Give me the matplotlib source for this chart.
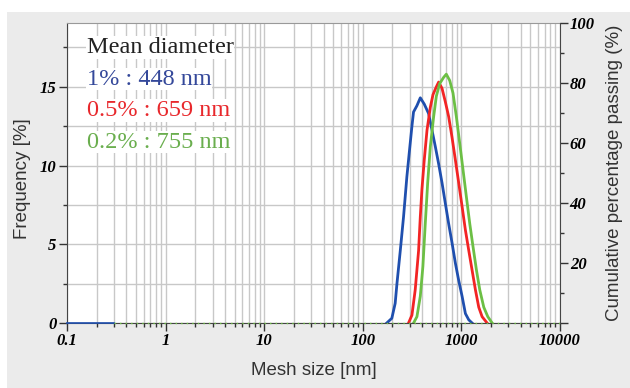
import numpy as np
import matplotlib
matplotlib.use('Agg')
import matplotlib.pyplot as plt
import matplotlib.patches as patches
from matplotlib.ticker import FixedLocator, NullFormatter
from matplotlib.font_manager import FontProperties

# particle size distribution, mesh size [nm] vs frequency [%]
size_1 = [175, 197, 213, 222, 240, 259, 280, 298, 315, 327, 354, 383, 420, 465, 503,
          544, 588, 636, 687, 743, 803, 869, 939, 1016, 1098, 1188, 1284]
freq_1 = [0, 0.3, 1.25, 2.5, 4.6, 6.75, 9.3, 11.0, 12.5, 13.4, 13.8, 14.3, 13.9, 13.3, 12.25,
          11.2, 10.1, 8.9, 7.6, 6.3, 5.1, 3.8, 2.7, 1.7, 0.6, 0.2, 0]

size_05 = [291, 315, 340, 368, 383, 398, 420, 448, 484, 515, 557, 588, 636, 687, 743,
           803, 869, 939, 1016, 1098, 1188, 1284, 1388, 1500, 1622, 1823]
freq_05 = [0, 0.5, 2.1, 4.6, 6.75, 8.5, 10.35, 12.25, 13.7, 14.5, 15.0, 15.3, 14.9, 14.05, 13.1,
           11.8, 10.35, 8.9, 7.4, 5.9, 4.6, 3.35, 2.1, 1.0, 0.4, 0]

size_02 = [327, 354, 383, 407, 430, 455, 484, 523, 557, 602, 661, 703, 761, 822, 889,
           962, 1040, 1124, 1216, 1315, 1422, 1536, 1687, 1853, 2051]
freq_02 = [0, 0.4, 1.7, 3.6, 6.3, 8.9, 11.2, 13.1, 14.4, 15.2, 15.6, 15.8, 15.4, 14.6, 13.1,
           11.4, 9.7, 8.0, 6.3, 4.8, 3.35, 2.1, 1.0, 0.4, 0]

baseline_split = 0.3
x_lo, x_hi = 0.1, 10000

labels = ['1% : 448 nm', '0.5% : 659 nm', '0.2% : 755 nm']
xtick_vals = [0.1, 1, 10, 100, 1000, 10000]
xtick_labels = ['0.1', '1', '10', '100', '1000', '10000']
yl_ticks = [0, 5, 10, 15]
yr_ticks = [0, 20, 40, 60, 80, 100]
yr_labels = ['', '20', '40', '60', '80', '100']

blue = '#1f4fae'
red = '#f22424'
green = '#6cbf45'
txt_blue = '#34489a'
txt_red = '#e8282c'
txt_green = '#6aae4e'

fig = plt.figure(figsize=(6.3, 3.88), dpi=100)
fig.patch.set_facecolor('white')
fig.patches.append(patches.Rectangle((7 / 630, 0), 1, (388 - 12) / 388, transform=fig.transFigure,
                                     facecolor='#ebebeb', edgecolor='none', zorder=-10))

ax = fig.add_axes([67 / 630, 1 - 323 / 388, (560 - 67) / 630, (323 - 23) / 388])
ax.set_facecolor('white')
ax.set_xscale('log')
ax.set_xlim(x_lo, x_hi)
ax.set_ylim(0, 19.05)

ax.plot(size_1, freq_1, color=blue, lw=2)
ax.plot(size_05, freq_05, color=red, lw=2)
ax.plot(size_02, freq_02, color=green, lw=2)
ax.plot([x_lo, baseline_split], [0, 0], color=blue, lw=1.2, clip_on=False, zorder=5)
ax.plot([baseline_split, x_hi], [0, 0], color=green, lw=1, ls=(0, (1, 3)), clip_on=False, zorder=5)

ax.set_xticks(xtick_vals)
ax.set_xticklabels(xtick_labels)
ax.xaxis.set_minor_locator(FixedLocator([m * 10.0 ** e for e in range(-1, 4) for m in range(2, 10)]))
ax.xaxis.set_minor_formatter(NullFormatter())
ax.set_yticks(yl_ticks)
ax.set_yticklabels([str(v) for v in yl_ticks])
ax.yaxis.set_minor_locator(FixedLocator([2.5, 7.5, 12.5, 17.5]))

ax.grid(which='both', color='#c8c8c8', lw=1)
ax.set_axisbelow(True)

tick_font = FontProperties(family='Liberation Serif', weight='bold', style='italic', size=12)
for lab in ax.get_xticklabels() + ax.get_yticklabels():
    lab.set_fontproperties(tick_font)
ax.tick_params(which='major', direction='out', length=6, width=1, color='#333333', pad=1.5)
ax.tick_params(which='minor', direction='out', length=3, width=1, color='#333333')

for s in ['left', 'bottom']:
    ax.spines[s].set_color('#444444')
ax.spines['top'].set_color('#999999')
ax.spines['right'].set_visible(False)

ax2 = ax.twinx()
ax2.set_ylim(0, 100)
ax2.set_yticks(yr_ticks)
ax2.set_yticklabels(yr_labels)
ax2.yaxis.set_minor_locator(FixedLocator([10, 30, 50, 70, 90]))
for lab in ax2.get_yticklabels():
    lab.set_fontproperties(tick_font)
ax2.tick_params(which='major', direction='out', length=6, width=1, color='#333333', pad=1)
ax2.tick_params(which='minor', direction='out', length=3, width=1, color='#333333')
ax2.spines['right'].set_color('#444444')
for s in ['left', 'top', 'bottom']:
    ax2.spines[s].set_visible(False)

ax.set_xlabel('Mesh size [nm]', family='Liberation Sans', size=13.5, color='#333333', labelpad=9)
ax.set_ylabel('Frequency [%]', family='Liberation Sans', size=13.5, color='#333333', va='center')
ax.yaxis.set_label_coords(-0.091, 0.48)
ax2.set_ylabel('Cumulative percentage passing (%)', family='Liberation Sans', size=13.5,
               color='#333333', labelpad=8)

box = dict(facecolor='white', edgecolor='none', pad=0.5)
ax.text(0.04, 0.918, 'Mean diameter', transform=ax.transAxes, family='Liberation Serif', size=17.5,
        color='#222222', va='center', ha='left', bbox=box)
for i, (t, c) in enumerate(zip(labels, [txt_blue, txt_red, txt_green])):
    ax.text(0.04, 0.813 - i * 0.105, t, transform=ax.transAxes, family='Liberation Serif', size=17.5,
            color=c, va='center', ha='left', bbox=box)

fig.savefig('out.png', dpi=100)
